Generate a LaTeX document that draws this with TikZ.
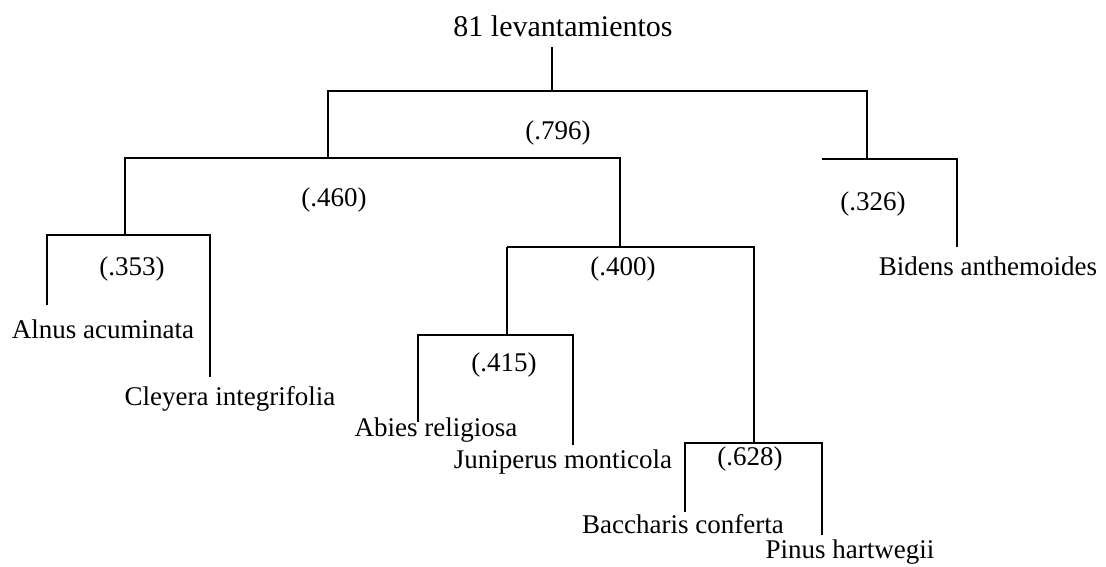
\documentclass[tikz,border=0pt]{standalone}
\usepackage{fontspec}
\setmainfont{Liberation Serif}
\begin{document}
\begin{tikzpicture}[x=1pt,y=-1pt,
  lbl/.style={anchor=base,inner sep=0pt,font=\fontsize{27}{31}\selectfont},
  leaf/.style={lbl,font=\fontsize{27}{31}\selectfont},
  rootlbl/.style={lbl,font=\fontsize{30}{34}\selectfont},
  branch/.style={line width=2.6pt,line cap=butt,line join=miter}]
\useasboundingbox (0,0) rectangle (1106,567);
% labels
\node[rootlbl] (root) at (563,37) {81 levantamientos};
\node[lbl] (v796) at (558,140) {(.796)};
\node[lbl] (v460) at (334,206) {(.460)};
\node[lbl] (v326) at (873,210) {(.326)};
\node[lbl] (v353) at (132,275) {(.353)};
\node[lbl] (v400) at (623,275) {(.400)};
\node[lbl] (v415) at (504,371) {(.415)};
\node[lbl] (v628) at (750,465) {(.628)};
\node[leaf] (bidens) at (988,275) {Bidens anthemoides};
\node[leaf] (alnus) at (103,338) {Alnus acuminata};
\node[leaf] (cleyera) at (230,405) {Cleyera integrifolia};
\node[leaf] (abies) at (436,436) {Abies religiosa};
\node[leaf] (juni) at (563,468) {Juniperus monticola};
\node[leaf] (bacch) at (683,533) {Baccharis conferta};
\node[leaf] (pinus) at (850,558) {Pinus hartwegii};
% junction coordinates
\coordinate (r0) at (552,47);
\coordinate (r1) at (552,91);
\coordinate (a1) at (328,91);
\coordinate (b1) at (867,91);
\coordinate (a2) at (328,158);
\coordinate (b2) at (867,159);
\coordinate (bL) at (822,159);
\coordinate (bR) at (957,159);
\coordinate (bidE) at (957,247);
\coordinate (mL) at (125,158);
\coordinate (mR) at (620,158);
\coordinate (lL) at (125,235);
\coordinate (alT) at (47,235);
\coordinate (clT) at (210,235);
\coordinate (alE) at (47,305);
\coordinate (clE) at (210,377);
\coordinate (kT) at (620,247);
\coordinate (kL) at (507,247);
\coordinate (kR) at (754,247);
\coordinate (pT) at (507,335);
\coordinate (abT) at (418,335);
\coordinate (juT) at (573,335);
\coordinate (abE) at (418,422);
\coordinate (juE) at (573,445);
\coordinate (qT) at (754,443);
\coordinate (baT) at (685,443);
\coordinate (piT) at (822,443);
\coordinate (baE) at (685,512);
\coordinate (piE) at (822,535);
% branches
\draw[branch] (r0) -- (r1);
\draw[branch] (a2) -- (a1) -- (b1) -- (b2);
\draw[branch] (bL) -- (bR) -- (bidE);
\draw[branch] (lL) -- (mL) -- (mR) -- (kT);
\draw[branch] (alE) -- (alT) -- (clT) -- (clE);
\draw[branch] (kL) -- (kR) -- (qT);
\draw[branch] (pT) -- (kL);
\draw[branch] (abE) -- (abT) -- (juT) -- (juE);
\draw[branch] (baE) -- (baT) -- (piT) -- (piE);
\end{tikzpicture}
\end{document}
